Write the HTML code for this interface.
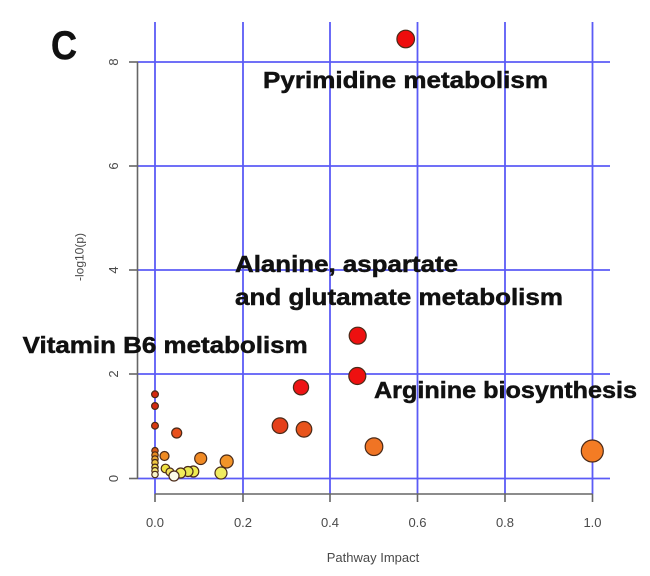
<!DOCTYPE html>
<html>
<head>
<meta charset="utf-8">
<style>
html,body{margin:0;padding:0;background:#fff;}
svg{display:block;}
</style>
</head>
<body>
<svg width="650" height="576" viewBox="0 0 650 576" xmlns="http://www.w3.org/2000/svg">
<rect width="650" height="576" fill="#fff"/>
<!-- grid -->
<g stroke="#5b5bf6" stroke-width="1.8" fill="none">
<line x1="138" y1="62" x2="610" y2="62"/>
<line x1="138" y1="166" x2="610" y2="166"/>
<line x1="138" y1="270" x2="610" y2="270"/>
<line x1="138" y1="374" x2="610" y2="374"/>
<line x1="138" y1="478.5" x2="610" y2="478.5"/>
<line x1="155" y1="22" x2="155" y2="494"/>
<line x1="243" y1="22" x2="243" y2="494"/>
<line x1="330" y1="22" x2="330" y2="494"/>
<line x1="417.5" y1="22" x2="417.5" y2="494"/>
<line x1="505" y1="22" x2="505" y2="494"/>
<line x1="592.5" y1="22" x2="592.5" y2="494"/>
</g>
<!-- axes -->
<g stroke="#666" stroke-width="1.6" fill="none">
<line x1="137.5" y1="62" x2="137.5" y2="478.5"/>
<line x1="129" y1="62" x2="138" y2="62"/>
<line x1="129" y1="166" x2="138" y2="166"/>
<line x1="129" y1="270" x2="138" y2="270"/>
<line x1="129" y1="374" x2="138" y2="374"/>
<line x1="129" y1="478.5" x2="138" y2="478.5"/>
<line x1="155" y1="494" x2="592.5" y2="494"/>
<line x1="155" y1="494" x2="155" y2="502"/>
<line x1="243" y1="494" x2="243" y2="502"/>
<line x1="330" y1="494" x2="330" y2="502"/>
<line x1="417.5" y1="494" x2="417.5" y2="502"/>
<line x1="505" y1="494" x2="505" y2="502"/>
<line x1="592.5" y1="494" x2="592.5" y2="502"/>
</g>
<!-- tick labels -->
<g font-family="Liberation Sans, sans-serif" font-size="13" fill="#4a4a4a" text-anchor="middle">
<text x="155" y="527">0.0</text>
<text x="243" y="527">0.2</text>
<text x="330" y="527">0.4</text>
<text x="417.5" y="527">0.6</text>
<text x="505" y="527">0.8</text>
<text x="592.5" y="527">1.0</text>
<text transform="translate(118,478.5) rotate(-90)">0</text>
<text transform="translate(118,374) rotate(-90)">2</text>
<text transform="translate(118,270) rotate(-90)">4</text>
<text transform="translate(118,166) rotate(-90)">6</text>
<text transform="translate(118,62) rotate(-90)">8</text>
<text x="373" y="562">Pathway Impact</text>
<text transform="translate(83.5,257) rotate(-90)" font-size="12">-log10(p)</text>
</g>
<!-- points -->
<g stroke="#4a2a18" stroke-width="1.2">
<circle cx="155" cy="394.3" r="3.4" fill="#d42a10"/>
<circle cx="155" cy="406" r="3.4" fill="#d42a10"/>
<circle cx="155" cy="425.7" r="3.4" fill="#d83a12"/>
<circle cx="155" cy="450.7" r="3.2" fill="#dc5a18"/>
<circle cx="155" cy="455" r="3.2" fill="#e88a20"/>
<circle cx="155" cy="459" r="3.2" fill="#eca830"/>
<circle cx="155" cy="462.7" r="3.2" fill="#f0c840"/>
<circle cx="155" cy="467.3" r="3.2" fill="#f2dc50"/>
<circle cx="155" cy="470.7" r="3.2" fill="#f4e878"/>
<circle cx="155" cy="474.5" r="3.2" fill="#f8f4c8"/>
<circle cx="176.7" cy="433" r="5" fill="#e8501c"/>
<circle cx="164.5" cy="456" r="4.5" fill="#ee8a22"/>
<circle cx="200.7" cy="458.5" r="6" fill="#f08a24"/>
<circle cx="226.7" cy="461.5" r="6.5" fill="#f29428"/>
<circle cx="165.5" cy="468.5" r="4.3" fill="#eee040"/>
<circle cx="193.3" cy="471.5" r="5.5" fill="#eeea50"/>
<circle cx="188" cy="471.5" r="5" fill="#e8e850"/>
<circle cx="180.7" cy="473" r="5" fill="#f0ec5a"/>
<circle cx="170" cy="472" r="4" fill="#f0e060"/>
<circle cx="174" cy="476" r="5" fill="#fbfbe8"/>
<circle cx="221" cy="473" r="6" fill="#f0ec60"/>
<circle cx="280" cy="425.7" r="7.8" fill="#e4401a"/>
<circle cx="304" cy="429.3" r="7.8" fill="#e8541c"/>
<circle cx="374" cy="446.7" r="8.8" fill="#f07424"/>
<circle cx="592.3" cy="451" r="11" fill="#f47c24"/>
<circle cx="301" cy="387.3" r="7.6" fill="#ee1414"/>
<circle cx="357.3" cy="376" r="8.5" fill="#ee1010"/>
<circle cx="357.7" cy="335.7" r="8.5" fill="#ee1010"/>
<circle cx="405.7" cy="39" r="8.8" fill="#ee0c0c"/>
</g>
<!-- labels -->
<g font-family="Liberation Sans, sans-serif" font-weight="bold" fill="#111" stroke="#111" stroke-width="0.5" font-size="23.5">
<text x="263" y="88" textLength="285" lengthAdjust="spacingAndGlyphs">Pyrimidine metabolism</text>
<text x="235" y="272" textLength="223" lengthAdjust="spacingAndGlyphs">Alanine, aspartate</text>
<text x="235" y="305" textLength="328" lengthAdjust="spacingAndGlyphs">and glutamate metabolism</text>
<text x="22.7" y="353" textLength="285" lengthAdjust="spacingAndGlyphs">Vitamin B6 metabolism</text>
<text x="374" y="398" textLength="263" lengthAdjust="spacingAndGlyphs">Arginine biosynthesis</text>
<text x="51" y="59" font-size="40" textLength="26" lengthAdjust="spacingAndGlyphs">C</text>
</g>
</svg>
</body>
</html>
